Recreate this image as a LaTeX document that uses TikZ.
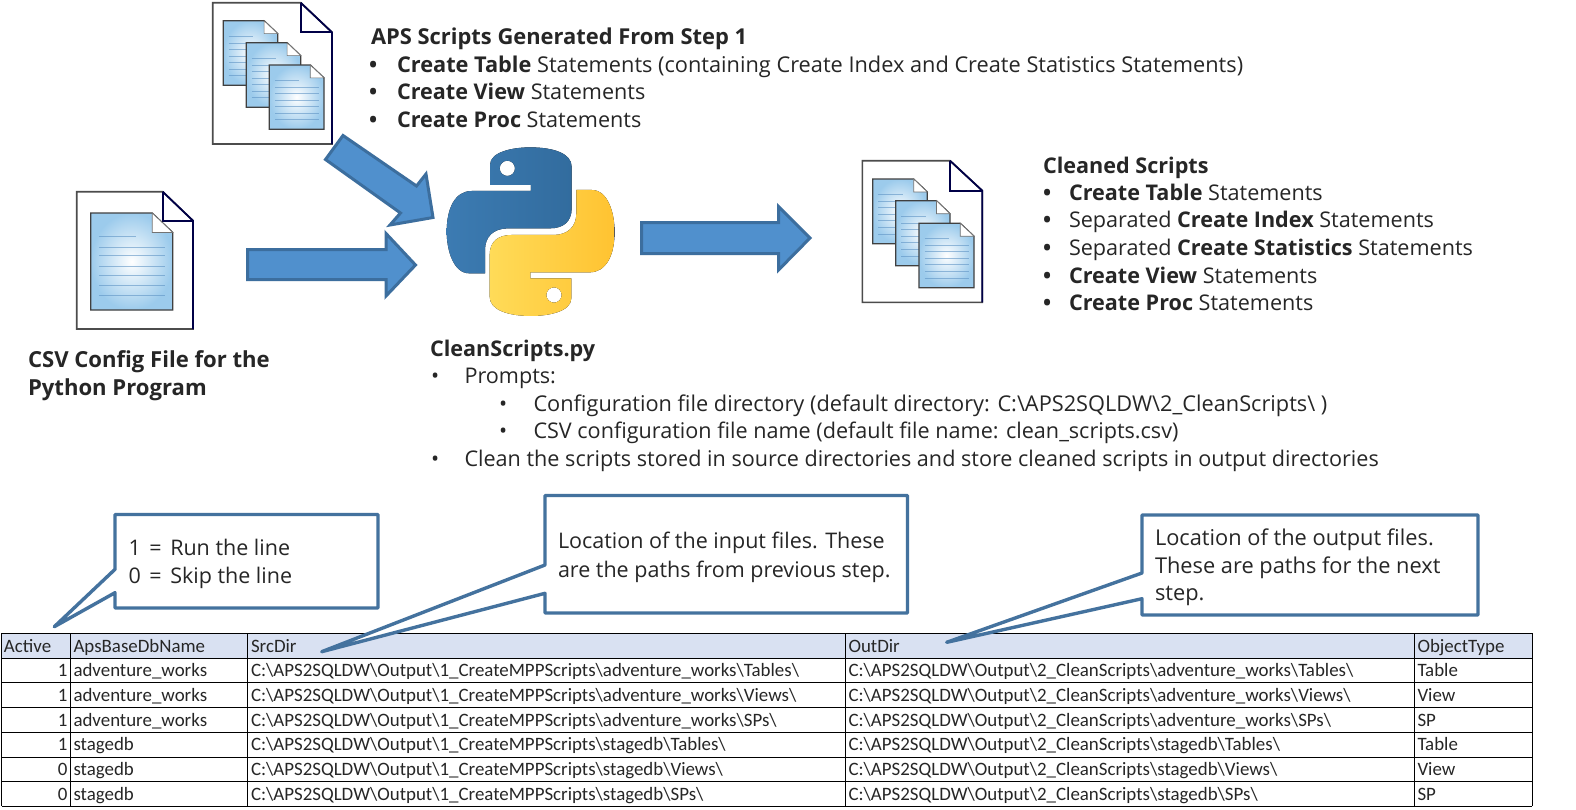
\documentclass[tikz,border=0pt]{standalone}
\usepackage{fontspec}
\setmainfont{Open Sans}
\newfontfamily\tblfont{Carlito}
\newcommand{\bs}{\textbackslash}
\definecolor{arrowfill}{HTML}{5090CD}
\definecolor{arrowline}{HTML}{3C6E9E}
\definecolor{callline}{HTML}{44729E}
\definecolor{txt}{HTML}{262626}
\definecolor{hdr}{HTML}{D9E1F2}
\definecolor{docblue}{HTML}{9CCBEC}
\definecolor{docline}{HTML}{5E93C4}
\definecolor{pyblueA}{HTML}{3C7BB2}
\definecolor{pyblueB}{HTML}{326C9E}
\definecolor{pyyelA}{HTML}{FFDB58}
\definecolor{pyyelB}{HTML}{FFC331}
\tikzset{
 x=1pt,y=-1pt,
 txtnode/.style={anchor=base west,inner sep=0pt,outer sep=0pt,text=txt,font=\fontsize{21.6}{26}\selectfont},
 txtwide/.style={txtnode,font=\fontsize{21.75}{26}\selectfont},
 txthead/.style={txtnode,font=\fontsize{21.9}{26}\selectfont},
 txtcsv/.style={txtnode,font=\fontsize{22.1}{26}\selectfont},
 calltxt/.style={txtnode,font=\fontsize{21.5}{26}\selectfont},
 calltxtb/.style={txtnode,font=\fontsize{21.8}{26}\selectfont},
 cell/.style={anchor=base west,inner sep=0pt,outer sep=0pt,text=black!85,font=\tblfont\fontsize{18.9}{22}\selectfont},
 numcell/.style={cell,anchor=base east},
 bigarrow/.style={fill=arrowfill,draw=arrowline,line width=3pt,miter limit=10},
 callout/.style={fill=white,draw=callline,line width=3.4pt,line join=round},
 outerpage/.style={fill=white,draw=black!70,line width=1.6pt,line join=miter},
 foldline/.style={draw=black!60!blue!70!black,line width=1.8pt},
 innerpage/.style={draw=black!75,line width=1.3pt,inner color=white,outer color=docblue},
 txtline/.style={draw=docline,line width=.8pt,opacity=.6},
 grid/.style={draw=black,line width=1pt},
}
% outer sheet: x0 x1 y0 y1 foldx foldy
\newcommand{\outersheet}[6]{%
 \path[outerpage] (#1,#3) -- (#5,#3) -- (#2,#6) -- (#2,#4) -- (#1,#4) -- cycle;
 \draw[foldline] (#5,#3) -- (#2,#6) -- (#2,#4);
 \draw[foldline] (#5,#3) -- (#5,#6) -- (#2,#6);
}
% inner sheet: x0 x1 y0 y1
\newcommand{\innersheet}[4]{%
 \pgfmathsetmacro{\fx}{#2-0.25*(#2-#1)}
 \pgfmathsetmacro{\fy}{#3+0.2*(#4-#3)}
 \path[innerpage] (#1,#3) -- (\fx,#3) -- (#2,\fy) -- (#2,#4) -- (#1,#4) -- cycle;
 \draw[fill=white,draw=black!55,line width=.7pt] (\fx,#3) -- (#2,\fy) -- (\fx,\fy) -- cycle;
 \pgfmathsetmacro{\la}{#1+0.1*(#2-#1)}
 \pgfmathsetmacro{\lb}{#1+0.55*(#2-#1)}
 \pgfmathsetmacro{\lc}{#1+0.9*(#2-#1)}
 \draw[txtline] (\la,{#3+0.24*(#4-#3)}) -- (\lb,{#3+0.24*(#4-#3)});
 \foreach \f in {0.35,0.44,0.55,0.64,0.75,0.85}
  \draw[txtline] (\la,{#3+\f*(#4-#3)}) -- (\lc,{#3+\f*(#4-#3)});
}
\newcommand{\pysnake}{(180,135) -- (180,75) .. controls (180,35) and (250,22) .. (300,22) .. controls (370,22) and (425,40) .. (425,80) -- (425,205) .. controls (425,245) and (400,265) .. (360,265) -- (235,265) .. controls (190,265) and (165,290) .. (165,330) -- (165,400) -- (118,400) .. controls (70,400) and (50,330) .. (50,275) .. controls (50,205) and (75,153) .. (125,153) -- (303,153) -- (303,135) -- cycle}
\begin{document}
\begin{tikzpicture}
\useasboundingbox (0,0) rectangle (1576,809);
\fill[white] (0,0) rectangle (1576,809);

% document icons
\outersheet{212.7}{332}{2.7}{144}{300.7}{32.3}
\innersheet{223.3}{277.7}{20.7}{85.3}
\innersheet{246.3}{300.7}{42.7}{107.3}
\innersheet{269.3}{324}{65}{129.3}

\outersheet{76.7}{193}{191.7}{329}{162.7}{220.7}
\innersheet{90.7}{172.7}{213}{310}

\outersheet{862.3}{982.3}{160.7}{302.3}{950}{190.7}
\innersheet{872.7}{927.3}{179}{243.7}
\innersheet{895.7}{950}{200.7}{265.7}
\innersheet{919}{974}{223.3}{287.7}

% block arrows
\draw[bigarrow] (343,135.5) -- (325.5,159.5) -- (400.5,213) -- (390,225) -- (433,217.5) -- (426,174) -- (416.5,186) -- cycle;
\draw[bigarrow] (247.5,249.5) -- (386,249.5) -- (386,233.5) -- (415.5,265) -- (386,296) -- (386,279.5) -- (247.5,279.5) -- cycle;
\draw[bigarrow] (641.5,222.5) -- (778.5,222.5) -- (778.5,206.5) -- (810,238) -- (778.5,270) -- (778.5,253.5) -- (641.5,253.5) -- cycle;

% python logo
\begin{scope}[shift={(430,140)},x=.3333pt,y=-.3333pt]
 \fill[left color=pyblueA,right color=pyblueB,even odd rule] \pysnake (232,85) circle[radius=23];
 \begin{scope}[shift={(604,550)},x=-.3333pt,y=.3333pt]
  \fill[left color=pyyelA,right color=pyyelB,even odd rule] \pysnake (232,85) circle[radius=23];
 \end{scope}
\end{scope}

% upper texts
\node[txthead] (apsh) at (371,44) {\textbf{APS Scripts Generated From Step 1}};
\node[txtnode] (apsb1) at (369,72) {\textbf{•}};
\node[txtnode] (apsb2) at (369,99) {\textbf{•}};
\node[txtnode] (apsb3) at (369,127) {\textbf{•}};
\node[txtwide] (aps1) at (397,72) {\textbf{Create Table} Statements (containing Create Index and Create Statistics Statements)};
\node[txtnode] (aps2) at (397,99) {\textbf{Create View} Statements};
\node[txtnode] (aps3) at (397,127) {\textbf{Create Proc} Statements};

\node[txtnode] (clh) at (1043,173) {\textbf{Cleaned Scripts}};
\node[txtnode] (clb1) at (1043,200) {\textbf{•}};
\node[txtnode] (clb2) at (1043,227) {\textbf{•}};
\node[txtnode] (clb3) at (1043,255) {\textbf{•}};
\node[txtnode] (clb4) at (1043,283) {\textbf{•}};
\node[txtnode] (clb5) at (1043,310) {\textbf{•}};
\node[txtnode] (cl1) at (1069,200) {\textbf{Create Table} Statements};
\node[txtnode] (cl2) at (1069,227) {Separated \textbf{Create Index} Statements};
\node[txtnode] (cl3) at (1069,255) {Separated \textbf{Create Statistics} Statements};
\node[txtnode] (cl4) at (1069,283) {\textbf{Create View} Statements};
\node[txtnode] (cl5) at (1069,310) {\textbf{Create Proc} Statements};

\node[txtcsv] (csv1) at (28,367) {\textbf{CSV Config File for the}};
\node[txtcsv] (csv2) at (28,395) {\textbf{Python Program}};

\node[txtnode] (py0) at (430,356.5) {\textbf{CleanScripts.py}};
\node[txtnode] (pyb1) at (431,383.5) {•};
\node[txtnode] (pyt1) at (464.5,383.5) {Prompts:};
\node[txtnode] (pyb2) at (499,411) {•};
\node[txtwide] (pyt2) at (533.5,411) {Configuration file directory (default directory: C:\bs APS2SQLDW\bs 2\_CleanScripts\bs\ )};
\node[txtnode] (pyb3) at (499,438) {•};
\node[txtnode] (pyt3) at (533.5,438) {CSV configuration file name (default file name: clean\_scripts.csv)};
\node[txtnode] (pyb4) at (431,466) {•};
\node[txtnode] (pyt4) at (464.5,466) {Clean the scripts stored in source directories and store cleaned scripts in output directories};

% table
\fill[hdr] (1.5,633.3) rectangle (1532,658);
\foreach \yy in {633.3,658,682.8,707.5,732.3,757,781.6,806.3}
 \draw[grid] (1.5,\yy) -- (1532,\yy);
\foreach \xx in {1.5,70.5,247.3,845.3,1414.3,1532}
 \draw[grid] (\xx,633.3) -- (\xx,806.3);

\node[cell] (h1) at (4,652) {Active};
\node[cell] (h2) at (73.5,652) {ApsBaseDbName};
\node[cell] (h3) at (251,652) {SrcDir};
\node[cell] (h4) at (848.5,652) {OutDir};
\node[cell] (h5) at (1417.5,652) {ObjectType};

\newcommand{\trow}[6]{%
 \node[numcell] (a#1) at (67.5,#2) {#3};
 \node[cell] (b#1) at (73.5,#2) {#4};
 \node[cell] (c#1) at (251,#2) {C:\bs APS2SQLDW\bs Output\bs 1\_CreateMPPScripts\bs #4\bs #5\bs};
 \node[cell] (d#1) at (848.5,#2) {C:\bs APS2SQLDW\bs Output\bs 2\_CleanScripts\bs #4\bs #5\bs};
 \node[cell] (e#1) at (1417.5,#2) {#6};
}
\trow{1}{676.7}{1}{adventure\_works}{Tables}{Table}
\trow{2}{701.4}{1}{adventure\_works}{Views}{View}
\trow{3}{726.2}{1}{adventure\_works}{SPs}{SP}
\trow{4}{750.9}{1}{stagedb}{Tables}{Table}
\trow{5}{775.6}{0}{stagedb}{Views}{View}
\trow{6}{800.3}{0}{stagedb}{SPs}{SP}

% callouts
\coordinate (tipa) at (54.3,626.7);
\coordinate (tipb) at (321.7,651.7);
\coordinate (tipc) at (946.7,642.3);
\path[callout] (115,514.5) -- (378,514.5) -- (378,608) -- (115,608) -- (115,592.7) -- (tipa) -- (115,569.3) -- cycle;
\path[callout] (545,495.5) -- (907.5,495.5) -- (907.5,613) -- (545,613) -- (545,593.3) -- (tipb) -- (545,565) -- cycle;
\path[callout] (1142,515) -- (1478,515) -- (1478,615) -- (1142,615) -- (1142,598.7) -- (tipc) -- (1142,573) -- cycle;

\node[calltxt] (ca1) at (128.5,555.5) {1\hspace{3pt} = \hspace{3pt}Run the line};
\node[calltxt] (ca2) at (128.5,583.5) {0\hspace{3pt} = \hspace{3pt}Skip the line};
\node[calltxt] (cb1) at (558,548) {Location of the input files. These};
\node[calltxt] (cb2) at (558,577) {are the paths from previous step.};
\node[calltxtb] (cc1) at (1155,545) {Location of the output files.};
\node[calltxtb] (cc2) at (1155,573.5) {These are paths for the next};
\node[calltxtb] (cc3) at (1155,600.5) {step.};
\end{tikzpicture}
\end{document}
